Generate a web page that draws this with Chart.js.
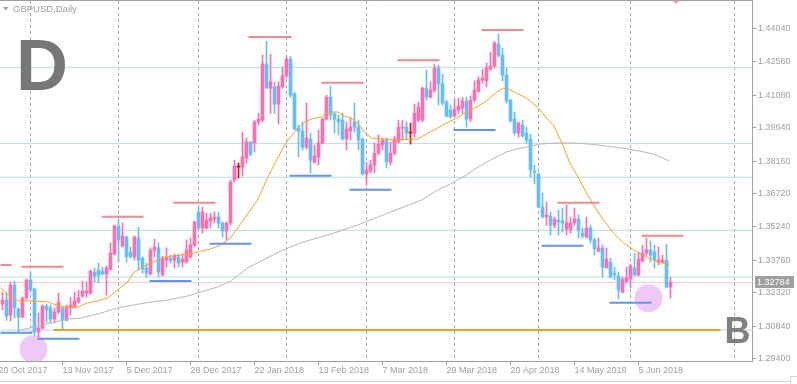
<!DOCTYPE html>
<html>
<head>
<meta charset="utf-8">
<script src="https://cdn.jsdelivr.net/npm/chart.js@4.4.1/dist/chart.umd.min.js"></script>
<style>
  html, body { margin: 0; padding: 0; background: #fff; }
</style>
</head>
<body>
<canvas id="chart" width="797" height="384"></canvas>
<script>
// GBPUSD daily candles, bar 0 = 23 Oct 2017
const opens = [
  1.3182, 1.3200, 1.3134, 1.3266, 1.3160, 1.3125, 1.3209, 1.3289, 1.3249, 1.3058,
  1.3076, 1.3173, 1.3165, 1.3116, 1.3147, 1.3165, 1.3111, 1.3165, 1.3169, 1.3191,
  1.3218, 1.3231, 1.3231, 1.3324, 1.3333, 1.3328, 1.3315, 1.3337, 1.3404, 1.3528,
  1.3439, 1.3479, 1.3413, 1.3391, 1.3475, 1.3386, 1.3342, 1.3315, 1.3422, 1.3431,
  1.3311, 1.3377, 1.3386, 1.3377, 1.3391, 1.3368, 1.3368, 1.3391, 1.3444, 1.3590,
  1.3519, 1.3519, 1.3550, 1.3559, 1.3568, 1.3541, 1.3506, 1.3541, 1.3732, 1.3789,
  1.3789, 1.3829, 1.3900, 1.3896, 1.3989, 1.3997, 1.4246, 1.4139, 1.4144, 1.4068,
  1.4144, 1.4193, 1.4268, 1.4113, 1.3962, 1.3949, 1.3878, 1.3913, 1.3811, 1.3834,
  1.3896, 1.4002, 1.4099, 1.4024, 1.4002, 1.3997, 1.3913, 1.3949, 1.3989, 1.3966,
  1.3913, 1.3758, 1.3771, 1.3798, 1.3851, 1.3887, 1.3909, 1.3811, 1.3851, 1.3900,
  1.3962, 1.3966, 1.3940, 1.3940, 1.3997, 1.3997, 1.4139, 1.4099, 1.4130, 1.4228,
  1.4158, 1.4077, 1.4042, 1.4015, 1.4042, 1.4051, 1.4082, 1.4002, 1.4086, 1.4126,
  1.4175, 1.4171, 1.4223, 1.4237, 1.4334, 1.4285, 1.4197, 1.4086, 1.4002, 1.3940,
  1.3975, 1.3940, 1.3913, 1.3771, 1.3758, 1.3612, 1.3568, 1.3572, 1.3532, 1.3554,
  1.3550, 1.3515, 1.3510, 1.3541, 1.3559, 1.3497, 1.3479, 1.3519, 1.3466, 1.3417,
  1.3431, 1.3342, 1.3368, 1.3320, 1.3306, 1.3235, 1.3284, 1.3293, 1.3342, 1.3311,
  1.3373, 1.3408, 1.3422, 1.3413, 1.3368, 1.3368, 1.3377, 1.3258
];
const highs = [
  1.3235, 1.3231, 1.3280, 1.3284, 1.3165, 1.3213, 1.3293, 1.3324, 1.3253, 1.3142,
  1.3178, 1.3182, 1.3178, 1.3165, 1.3231, 1.3169, 1.3178, 1.3213, 1.3235, 1.3244,
  1.3284, 1.3280, 1.3333, 1.3342, 1.3364, 1.3346, 1.3351, 1.3453, 1.3532, 1.3554,
  1.3541, 1.3484, 1.3435, 1.3484, 1.3523, 1.3391, 1.3364, 1.3431, 1.3470, 1.3453,
  1.3395, 1.3431, 1.3399, 1.3404, 1.3404, 1.3404, 1.3466, 1.3475, 1.3550, 1.3612,
  1.3612, 1.3585, 1.3585, 1.3590, 1.3590, 1.3546, 1.3546, 1.3732, 1.3820, 1.3807,
  1.3944, 1.3918, 1.3904, 1.3997, 1.4028, 1.4285, 1.4347, 1.4290, 1.4167, 1.4167,
  1.4232, 1.4281, 1.4281, 1.4121, 1.3975, 1.3989, 1.4073, 1.3940, 1.3887, 1.3953,
  1.4006, 1.4108, 1.4148, 1.4033, 1.4020, 1.4028, 1.3989, 1.4006, 1.4073, 1.3997,
  1.3918, 1.3811, 1.3820, 1.3896, 1.3931, 1.3918, 1.3918, 1.3900, 1.3927, 1.3997,
  1.3997, 1.3989, 1.3984, 1.4068, 1.4077, 1.4144, 1.4219, 1.4167, 1.4246, 1.4241,
  1.4201, 1.4086, 1.4064, 1.4086, 1.4095, 1.4099, 1.4099, 1.4104, 1.4171, 1.4189,
  1.4223, 1.4250, 1.4299, 1.4347, 1.4378, 1.4316, 1.4228, 1.4090, 1.4033, 1.3989,
  1.3997, 1.3966, 1.3935, 1.3798, 1.3763, 1.3674, 1.3634, 1.3590, 1.3568, 1.3599,
  1.3608, 1.3621, 1.3568, 1.3608, 1.3577, 1.3519, 1.3568, 1.3532, 1.3475, 1.3475,
  1.3444, 1.3431, 1.3386, 1.3346, 1.3324, 1.3302, 1.3346, 1.3360, 1.3408, 1.3413,
  1.3444, 1.3475, 1.3462, 1.3444, 1.3435, 1.3399, 1.3448, 1.3302
];
const lows = [
  1.3156, 1.3111, 1.3107, 1.3120, 1.3058, 1.3120, 1.3204, 1.3235, 1.3045, 1.3036,
  1.3071, 1.3102, 1.3098, 1.3098, 1.3138, 1.3071, 1.3107, 1.3134, 1.3165, 1.3187,
  1.3213, 1.3213, 1.3227, 1.3280, 1.3275, 1.3311, 1.3222, 1.3333, 1.3399, 1.3368,
  1.3435, 1.3368, 1.3386, 1.3377, 1.3333, 1.3320, 1.3302, 1.3311, 1.3391, 1.3302,
  1.3306, 1.3346, 1.3364, 1.3342, 1.3346, 1.3346, 1.3364, 1.3386, 1.3435, 1.3510,
  1.3497, 1.3515, 1.3519, 1.3541, 1.3519, 1.3479, 1.3466, 1.3532, 1.3723, 1.3741,
  1.3749, 1.3807, 1.3838, 1.3856, 1.3975, 1.3989, 1.4139, 1.4028, 1.4028, 1.3980,
  1.4139, 1.4184, 1.4099, 1.3953, 1.3834, 1.3865, 1.3869, 1.3763, 1.3807, 1.3798,
  1.3891, 1.3997, 1.3997, 1.3940, 1.3931, 1.3909, 1.3865, 1.3909, 1.3944, 1.3865,
  1.3754, 1.3710, 1.3763, 1.3763, 1.3842, 1.3865, 1.3785, 1.3798, 1.3842, 1.3896,
  1.3909, 1.3909, 1.3891, 1.3922, 1.3989, 1.3989, 1.4086, 1.4095, 1.4121, 1.4064,
  1.4064, 1.4011, 1.4006, 1.4011, 1.4028, 1.4028, 1.3966, 1.3989, 1.4077, 1.4121,
  1.4162, 1.4144, 1.4219, 1.4228, 1.4277, 1.4171, 1.4073, 1.3989, 1.3931, 1.3922,
  1.3922, 1.3896, 1.3745, 1.3714, 1.3608, 1.3564, 1.3532, 1.3488, 1.3519, 1.3488,
  1.3501, 1.3488, 1.3497, 1.3532, 1.3475, 1.3475, 1.3475, 1.3453, 1.3399, 1.3413,
  1.3302, 1.3342, 1.3298, 1.3289, 1.3204, 1.3231, 1.3275, 1.3253, 1.3306, 1.3306,
  1.3368, 1.3399, 1.3368, 1.3342, 1.3355, 1.3364, 1.3253, 1.3209
];
const closes = [
  1.3200, 1.3129, 1.3266, 1.3165, 1.3125, 1.3209, 1.3289, 1.3244, 1.3058, 1.3076,
  1.3173, 1.3156, 1.3116, 1.3147, 1.3191, 1.3111, 1.3169, 1.3178, 1.3196, 1.3209,
  1.3240, 1.3240, 1.3328, 1.3306, 1.3311, 1.3315, 1.3342, 1.3408, 1.3528, 1.3466,
  1.3484, 1.3391, 1.3391, 1.3479, 1.3377, 1.3337, 1.3320, 1.3422, 1.3435, 1.3324,
  1.3386, 1.3391, 1.3373, 1.3395, 1.3364, 1.3382, 1.3422, 1.3444, 1.3546, 1.3519,
  1.3590, 1.3554, 1.3564, 1.3568, 1.3541, 1.3506, 1.3541, 1.3723, 1.3794, 1.3789,
  1.3834, 1.3900, 1.3847, 1.3989, 1.4002, 1.4246, 1.4139, 1.4167, 1.4068, 1.4148,
  1.4193, 1.4268, 1.4108, 1.3958, 1.3949, 1.3878, 1.3918, 1.3820, 1.3838, 1.3896,
  1.4002, 1.4099, 1.4020, 1.4002, 1.3989, 1.3913, 1.3958, 1.3966, 1.3966, 1.3909,
  1.3758, 1.3776, 1.3798, 1.3851, 1.3891, 1.3909, 1.3811, 1.3851, 1.3913, 1.3966,
  1.3966, 1.3940, 1.3940, 1.4028, 1.4055, 1.4139, 1.4099, 1.4130, 1.4228, 1.4158,
  1.4073, 1.4015, 1.4011, 1.4046, 1.4059, 1.4082, 1.4002, 1.4086, 1.4130, 1.4175,
  1.4184, 1.4228, 1.4237, 1.4339, 1.4285, 1.4197, 1.4082, 1.3993, 1.3940, 1.3984,
  1.3927, 1.3909, 1.3776, 1.3767, 1.3612, 1.3568, 1.3577, 1.3532, 1.3559, 1.3546,
  1.3541, 1.3541, 1.3541, 1.3559, 1.3510, 1.3484, 1.3519, 1.3466, 1.3426, 1.3431,
  1.3346, 1.3382, 1.3302, 1.3311, 1.3244, 1.3293, 1.3298, 1.3351, 1.3311, 1.3382,
  1.3408, 1.3422, 1.3399, 1.3377, 1.3377, 1.3377, 1.3258, 1.32784
];

// time axis labels (bar index of each label) and month grid lines
const dateBars = [-1, 15, 31, 47, 63, 79, 95, 111, 127, 143, 159];
const dateLabels = ["20 Oct 2017", "13 Nov 2017", "5 Dec 2017", "28 Dec 2017", "22 Jan 2018",
  "13 Feb 2018", "7 Mar 2018", "29 Mar 2018", "20 Apr 2018", "14 May 2018", "5 Jun 2018"];
const monthBars = [7, 29, 49, 71, 91, 113, 134, 157, 183];

// price axis
const priceTicks = [1.44040, 1.42560, 1.41080, 1.39640, 1.38160, 1.36720, 1.35240, 1.33760, 1.32320, 1.30840, 1.29400];

// moving averages (bar index, price)
const fastMaBars = [-0.5, 2.5, 4, 7.75, 11.5, 12.75, 15.75, 18.75, 21.25, 23.75, 26.25, 28.75, 31.25, 32.75, 34.5, 37, 39.5, 42, 44.5, 47.75,
  49.5, 52, 54.5, 57, 63.75, 66.25, 68.75, 71, 73, 75.5, 77.25, 79.75, 81.25, 83.75, 85.5, 87.25, 88.75, 90.5, 92.25, 95.5,
  98.75, 102.25, 103.75, 105.5, 108.75, 111, 113.5, 116, 118.5, 121, 123.5, 125.25, 126.5, 128.5, 131, 132.25, 134, 136, 137.75, 139.75,
  141.75, 144, 146, 147.75, 150.25, 152.75, 155.25, 157.75, 161, 164.25, 166.75];
const fastMaVals = [1.3253, 1.3209, 1.3196, 1.3196, 1.3191, 1.3182, 1.3169, 1.3169, 1.3187, 1.3196, 1.3209, 1.3244, 1.3280, 1.3320, 1.3342, 1.3364, 1.3382, 1.3395, 1.3399, 1.3408,
  1.3417, 1.3426, 1.3444, 1.3475, 1.3643, 1.3741, 1.3829, 1.3900, 1.3944, 1.3989, 1.4002, 1.4011, 1.4033, 1.4033, 1.4015, 1.4006, 1.3984, 1.3944, 1.3918, 1.3913,
  1.3909, 1.3913, 1.3913, 1.3931, 1.3962, 1.3984, 1.4006, 1.4033, 1.4055, 1.4082, 1.4121, 1.4139, 1.4135, 1.4117, 1.4095, 1.4077, 1.4051, 1.4006, 1.3975, 1.3900,
  1.3811, 1.3741, 1.3674, 1.3621, 1.3554, 1.3497, 1.3453, 1.3422, 1.3391, 1.3368, 1.3355];
const slowMaBars = [3.75, 7.75, 12, 16.25, 19.5, 23.75, 28.75, 32.75, 37, 41.25, 46.25, 49.5, 53.75, 57, 61.25, 69.5, 74.5, 82, 89.5, 97,
  104.75, 108.75, 112, 116, 118.5, 121, 123.5, 126, 128.5, 131, 134.25, 138.5, 142.75, 146.75, 151, 155.25, 159.25, 162.75, 166.75];
const slowMaVals = [1.3063, 1.3080, 1.3098, 1.3116, 1.3120, 1.3138, 1.3165, 1.3178, 1.3191, 1.3200, 1.3218, 1.3235, 1.3258, 1.3284, 1.3342, 1.3417, 1.3453, 1.3492, 1.3537, 1.3590,
  1.3643, 1.3687, 1.3714, 1.3754, 1.3785, 1.3811, 1.3834, 1.3856, 1.3869, 1.3878, 1.3891, 1.3896, 1.3896, 1.3891, 1.3882, 1.3873, 1.3860, 1.3847, 1.3816];

// drawn objects: resistance / support segments (start bar, end bar, price)
const resStart = [-0.5, 4.75, 24.75, 42.75, 61.5, 79.75, 98.75, 119.75, 138.75, 159.75];
const resEnd   = [2.25, 15.25, 35.25, 53.25, 72.25, 90.25, 109.25, 130.25, 149.25, 170.25];
const resLevel = [1.3355, 1.3348, 1.3569, 1.3631, 1.4366, 1.4163, 1.4263, 1.4397, 1.3631, 1.3485];
const supStart = [-0.5, 8.75, 36.75, 51.75, 71.75, 86.75, 112.75, 134.75, 151.75];
const supEnd   = [7.5, 19.25, 47.25, 62.25, 82.25, 97.25, 123.25, 145.25, 162.25];
const supLevel = [1.3055, 1.3029, 1.3284, 1.3449, 1.3751, 1.3689, 1.3954, 1.3441, 1.3188];
const levelLines = [1.4231, 1.3894, 1.3744, 1.3509, 1.3302, 1.3067];
const keyLevel = { start: 12.75, end: 179.5, price: 1.3067 };
const circleBars = [7.75, 161.5];
const circleVals = [1.2983, 1.3208];
const arrowBar = 168.4, arrowVal = 1.4529;

const X_MIN = -0.625, X_MAX = 187.375;
const GREY = "#a0a0a0";
const BULL = "#ff6eb0", BEAR = "#69bdf7", DOJI = "#ff0000";

Chart.defaults.font.family = '"Liberation Sans", Arial, sans-serif';

const candleColors = opens.map((o, i) => closes[i] > o ? BULL : (closes[i] < o ? BEAR : DOJI));

function segments(starts, ends, levels) {
  const pts = [];
  starts.forEach((s, k) => {
    pts.push({ x: s, y: levels[k] }, { x: ends[k], y: levels[k] }, { x: ends[k], y: null });
  });
  return pts;
}

const decor = {
  id: "decor",
  beforeDraw(chart) {
    const ctx = chart.ctx;
    ctx.save();
    ctx.fillStyle = "#fff";
    ctx.fillRect(0, 0, chart.width, chart.height);
    ctx.restore();
  },
  afterDraw(chart) {
    const ctx = chart.ctx;
    const area = chart.chartArea;
    ctx.save();
    // frame
    ctx.strokeStyle = GREY;
    ctx.lineWidth = 1;
    ctx.beginPath();
    ctx.moveTo(0, 0.5);
    ctx.lineTo(area.right + 1, 0.5);
    ctx.stroke();
    ctx.strokeStyle = "#d4d4d4";
    ctx.beginPath();
    ctx.moveTo(0, 381.5);
    ctx.lineTo(790.5, 381.5);
    ctx.moveTo(790.5, 376);
    ctx.lineTo(790.5, 384);
    ctx.moveTo(790.5, 376.5);
    ctx.lineTo(797, 376.5);
    ctx.stroke();

    // symbol caption
    ctx.fillStyle = GREY;
    ctx.beginPath();
    ctx.moveTo(3, 7);
    ctx.lineTo(8.5, 7);
    ctx.lineTo(5.75, 10.5);
    ctx.closePath();
    ctx.fill();
    ctx.font = '9.5px "Liberation Sans"';
    ctx.textBaseline = "middle";
    ctx.fillText("GBPUSD,Daily", 13, 9);

    // big letters
    ctx.textBaseline = "alphabetic";
    ctx.fillStyle = "#777777";
    ctx.font = 'bold 72px "Liberation Sans"';
    ctx.fillText("D", 16, 90);
    ctx.fillStyle = "#808080";
    ctx.font = 'bold 36px "Liberation Sans"';
    ctx.fillText("B", 724.5, 342.5);

    // last price tag
    const last = closes[closes.length - 1];
    const y = Math.round(chart.scales.y.getPixelForValue(last));
    ctx.fillStyle = GREY;
    ctx.fillRect(755, y - 6, 39, 12);
    ctx.fillStyle = "#ffffff";
    ctx.font = '9px "Liberation Sans"';
    ctx.textBaseline = "middle";
    ctx.fillText(last.toFixed(5), 757, y + 0.5);
    ctx.restore();
  }
};

new Chart(document.getElementById("chart"), {
  type: "line",
  data: {
    datasets: [
      {
        label: "circles", order: 20, showLine: false,
        data: circleBars.map((b, i) => ({ x: b, y: circleVals[i] })),
        pointRadius: 14, pointBackgroundColor: "#efc8f8", pointBorderWidth: 0, pointStyle: "circle"
      },
      {
        label: "levels", order: 19, borderColor: "#b0e0e6", borderWidth: 1, pointRadius: 0, spanGaps: false,
        data: segments(levelLines.map(() => X_MIN), levelLines.map(() => X_MAX), levelLines)
      },
      {
        label: "bid", order: 18, borderColor: "#ffc0cb", borderWidth: 1, pointRadius: 0,
        data: [{ x: X_MIN, y: closes[closes.length - 1] }, { x: X_MAX, y: closes[closes.length - 1] }]
      },
      {
        label: "wicks", type: "bar", order: 10, grouped: false, barThickness: 1,
        data: lows.map((l, i) => ({ x: i, y: [l, highs[i]] })),
        backgroundColor: candleColors, borderWidth: 0
      },
      {
        label: "bodies", type: "bar", order: 9, grouped: false, barThickness: 3, minBarLength: 1,
        data: opens.map((o, i) => ({ x: i, y: [o, closes[i]] })),
        backgroundColor: candleColors, borderWidth: 0
      },
      {
        label: "slow MA", order: 6, borderColor: "#b8b8b8", borderWidth: 1, pointRadius: 0,
        data: slowMaBars.map((b, i) => ({ x: b, y: slowMaVals[i] }))
      },
      {
        label: "fast MA", order: 5, borderColor: "#ffa21a", borderWidth: 1, pointRadius: 0,
        data: fastMaBars.map((b, i) => ({ x: b, y: fastMaVals[i] }))
      },
      {
        label: "key level", order: 3, borderColor: "#eba322", borderWidth: 2, pointRadius: 0,
        data: [{ x: keyLevel.start, y: keyLevel.price }, { x: keyLevel.end, y: keyLevel.price }]
      },
      {
        label: "resistance", order: 2, borderColor: "#f5878f", borderWidth: 2, pointRadius: 0, spanGaps: false,
        data: segments(resStart, resEnd, resLevel)
      },
      {
        label: "support", order: 1, borderColor: "#6495ed", borderWidth: 2, pointRadius: 0, spanGaps: false,
        data: segments(supStart, supEnd, supLevel)
      },
      {
        label: "arrow", order: 0, showLine: false, clip: false,
        data: [{ x: arrowBar, y: arrowVal }],
        pointRadius: 4, pointStyle: "rectRot", pointBackgroundColor: "#f3a0b4", pointBorderWidth: 0
      }
    ]
  },
  options: {
    responsive: false,
    animation: false,
    events: [],
    layout: { autoPadding: false, padding: { top: 1, left: 0, right: 0, bottom: 0 } },
    plugins: { legend: { display: false }, tooltip: { enabled: false } },
    scales: {
      x: {
        type: "linear", position: "bottom", min: X_MIN, max: X_MAX, offset: false,
        afterBuildTicks: s => { s.ticks = dateBars.map(v => ({ value: v })); },
        afterFit: s => { s.height = 23; s.paddingLeft = 0; s.paddingRight = 0; },
        ticks: {
          autoSkip: false, maxRotation: 0, align: "start", padding: 0, color: GREY,
          font: { size: 9 }, callback: (v, i) => dateLabels[i]
        },
        grid: { drawOnChartArea: false, drawTicks: true, tickLength: 4, color: GREY, offset: false },
        border: { display: true, color: GREY }
      },
      xg: {
        type: "linear", position: "bottom", min: X_MIN, max: X_MAX, offset: false,
        afterBuildTicks: s => { s.ticks = monthBars.map(v => ({ value: v })); },
        afterFit: s => { s.height = 0; s.paddingLeft = 0; s.paddingRight = 0; },
        ticks: { display: false },
        grid: { drawOnChartArea: true, drawTicks: false, color: "#a8a8a8", offset: false },
        border: { display: false, dash: [3, 3] }
      },
      y: {
        type: "linear", position: "right", min: 1.2930, max: 1.4525,
        afterBuildTicks: s => { s.ticks = priceTicks.map(v => ({ value: v })); },
        afterFit: s => { s.width = 45; s.paddingTop = 0; s.paddingBottom = 0; },
        ticks: { padding: 2, color: GREY, font: { size: 9 }, callback: v => v.toFixed(5) },
        grid: { drawOnChartArea: false, drawTicks: true, tickLength: 4, color: GREY },
        border: { display: true, color: GREY }
      }
    }
  },
  plugins: [decor]
});
</script>
</body>
</html>
